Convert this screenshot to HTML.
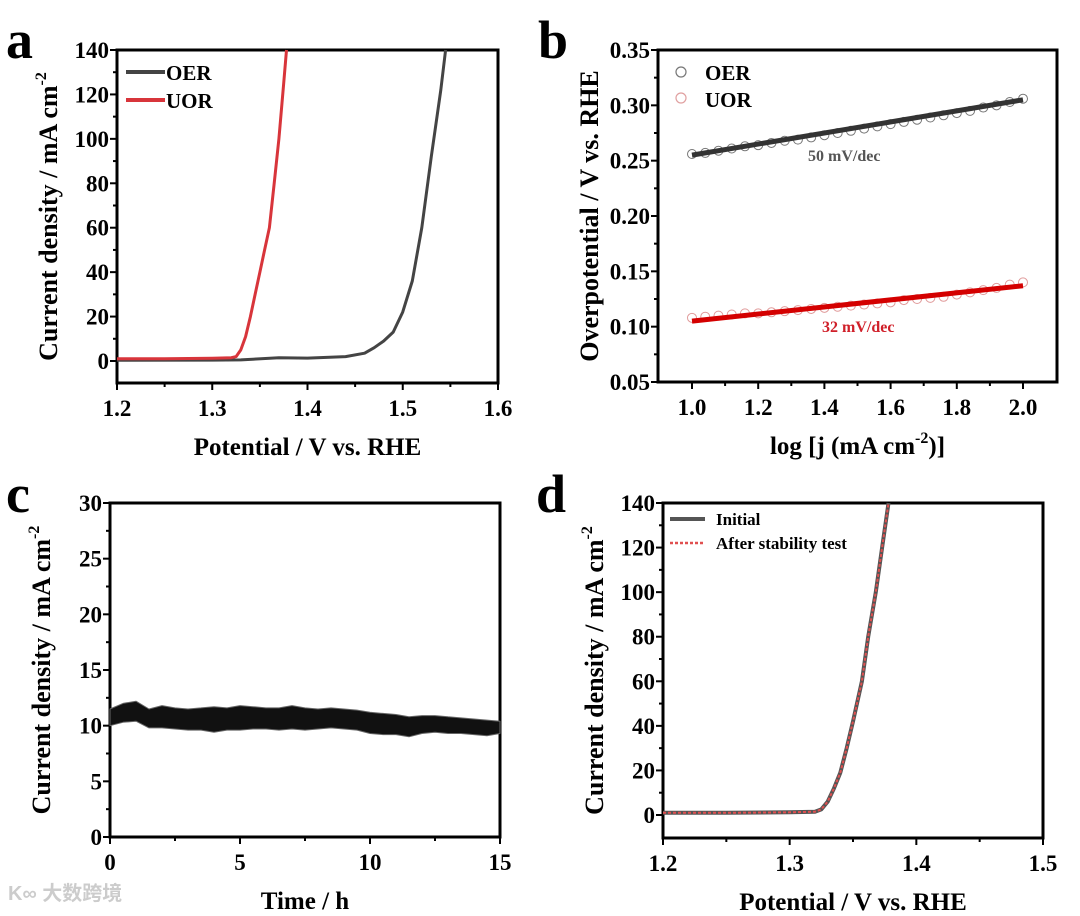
<!DOCTYPE html>
<html><head><meta charset="utf-8"><style>
html,body{margin:0;padding:0;background:#fff;}
svg{display:block;font-family:"Liberation Serif",serif;font-weight:bold;}
</style></head><body>
<svg id="fig" width="1080" height="916" viewBox="0 0 1080 916" xmlns="http://www.w3.org/2000/svg">
<g id="layer"></g>
<text x="6" y="58" font-size="54">a</text>
<text x="538" y="58" font-size="54">b</text>
<text x="6" y="512" font-size="54">c</text>
<text x="536" y="512" font-size="54">d</text>
<text x="8" y="900" font-size="20" fill="#ccc" font-family="'Liberation Sans','Noto Sans CJK SC',sans-serif">K∞ 大数跨境</text>
</svg>
<script>
// Panel a data
const aUorX=[1.2,1.25,1.3,1.32,1.325,1.33,1.335,1.34,1.345,1.35,1.355,1.36,1.365,1.37,1.375,1.378];
const aUorY=[1,1,1.2,1.5,2,5,11,20,30,40,50,60,80,100,125,140];
const aOerX=[1.2,1.3,1.33,1.37,1.4,1.44,1.46,1.47,1.48,1.49,1.5,1.51,1.52,1.53,1.54,1.545];
const aOerY=[0.3,0.4,0.5,1.5,1.3,2,3.5,6,9,13,22,36,60,92,122,140];
// Panel b data
const bX=[1.0,1.04,1.08,1.12,1.16,1.2,1.24,1.28,1.32,1.36,1.4,1.44,1.48,1.52,1.56,1.6,1.64,1.68,1.72,1.76,1.8,1.84,1.88,1.92,1.96,2.0];
const bOer=[0.256,0.257,0.259,0.261,0.263,0.264,0.266,0.268,0.269,0.271,0.273,0.275,0.277,0.279,0.281,0.283,0.285,0.287,0.289,0.291,0.293,0.295,0.298,0.300,0.303,0.306];
const bUor=[0.108,0.109,0.110,0.111,0.112,0.112,0.113,0.114,0.115,0.116,0.117,0.118,0.119,0.120,0.121,0.122,0.124,0.125,0.126,0.127,0.129,0.131,0.133,0.135,0.138,0.140];
const bFitOer=[0.255,0.305];
const bFitUor=[0.105,0.137];
// Panel c data
const cT=[0,0.5,1,1.5,2,2.5,3,3.5,4,4.5,5,5.5,6,6.5,7,7.5,8,8.5,9,9.5,10,10.5,11,11.5,12,12.5,13,13.5,14,14.5,15];
const cUpper=[11.5,12,12.2,11.5,11.8,11.6,11.5,11.6,11.7,11.6,11.8,11.7,11.6,11.6,11.8,11.6,11.5,11.6,11.5,11.4,11.2,11.1,11.0,10.8,10.9,10.9,10.8,10.7,10.6,10.5,10.4];
const cLower=[10.0,10.3,10.4,9.8,9.8,9.7,9.6,9.6,9.4,9.6,9.6,9.7,9.7,9.6,9.7,9.6,9.7,9.8,9.7,9.6,9.3,9.2,9.2,9.0,9.3,9.4,9.3,9.3,9.2,9.1,9.3];
// Panel d data
const dX=[1.2,1.25,1.3,1.32,1.325,1.33,1.335,1.34,1.345,1.35,1.357,1.362,1.368,1.373,1.378];
const dY=[1,1,1.2,1.5,2.5,6,12,19,30,42,60,80,100,120,140];
// tick labels
const aXTicks=[1.2,1.3,1.4,1.5,1.6], aYTicks=[0,20,40,60,80,100,120,140];
const bXTicks=[1.0,1.2,1.4,1.6,1.8,2.0], bYTicks=[0.05,0.10,0.15,0.20,0.25,0.30,0.35];
const cXTicks=[0,5,10,15], cYTicks=[0,5,10,15,20,25,30];
const dXTicks=[1.2,1.3,1.4,1.5], dYTicks=[0,20,40,60,80,100,120,140];

const NS="http://www.w3.org/2000/svg";
const layer=document.getElementById('layer');
function el(tag,attrs,parent){const e=document.createElementNS(NS,tag);for(const k in attrs)e.setAttribute(k,attrs[k]);(parent||layer).appendChild(e);return e;}
function lin(d0,d1,r0,r1){return v=>r0+(v-d0)/(d1-d0)*(r1-r0);}
function panel(name,box,xs,ys,xt,yt,xfmt,yfmt,xtitle,ytitle){
  const g=el('g',{});
  
  
  for(const v of xt){const x=xs(v);
    el('line',{x1:x,y1:box.b,x2:x,y2:box.b+7,stroke:'#000','stroke-width':2},g);
    const t=el('text',{x:x,y:box.b+33,'font-size':23,'text-anchor':'middle'},g);t.textContent=xfmt(v);
    
    }
  for(let i=0;i<xt.length-1;i++){const x=(xs(xt[i])+xs(xt[i+1]))/2;el('line',{x1:x,y1:box.b,x2:x,y2:box.b+4,stroke:'#000','stroke-width':2},g);}
  for(const v of yt){const y=ys(v);
    el('line',{x1:box.l-7,y1:y,x2:box.l,y2:y,stroke:'#000','stroke-width':2},g);
    const t=el('text',{x:box.l-8,y:y+8,'font-size':23,'text-anchor':'end'},g);t.textContent=yfmt(v);
    
    }
  for(let i=0;i<yt.length-1;i++){const y=(ys(yt[i])+ys(yt[i+1]))/2;el('line',{x1:box.l-4,y1:y,x2:box.l,y2:y,stroke:'#000','stroke-width':2},g);}
  const r=el('rect',{x:box.l,y:box.t,width:box.r-box.l,height:box.b-box.t,fill:'none',stroke:'#000','stroke-width':3},g);
  
  
  const xt2=el('text',{x:(box.l+box.r)/2,y:box.b+72,'font-size':25,'text-anchor':'middle'},g);
  xt2.innerHTML=xtitle;
  
  
  const cy=(box.t+box.b)/2, cx=box.l-60;
  const yt2=el('text',{x:cx,y:cy,'font-size':26,'text-anchor':'middle',transform:`rotate(-90 ${cx} ${cy})`},g);
  yt2.innerHTML=ytitle;
  
  
  return g;
}
function path(xs,ys,X,Y){return X.map((v,i)=>(i?'L':'M')+xs(v).toFixed(1)+','+ys(Y[i]).toFixed(1)).join('');}
const sup='<tspan dy="-11" font-size="16">-2</tspan>';

// ---- Panel a
{const box={l:117,r:498,t:50,b:383};const xs=lin(1.2,1.6,box.l,box.r),ys=lin(0,140,361,50);
 panel('a',box,xs,ys,aXTicks,aYTicks,v=>v.toFixed(1),v=>v,'Potential / V vs. RHE','Current density / mA cm'+sup);
 let p=el('path',{d:path(xs,ys,aOerX,aOerY),fill:'none',stroke:'#444','stroke-width':3,'stroke-linejoin':'round'});
 
 
 p=el('path',{d:path(xs,ys,aUorX,aUorY),fill:'none',stroke:'#d8353b','stroke-width':3,'stroke-linejoin':'round'});
 
 
 el('line',{x1:126,y1:72,x2:165,y2:72,stroke:'#444','stroke-width':4});
 el('line',{x1:126,y1:100,x2:165,y2:100,stroke:'#d8353b','stroke-width':4});
 let t=el('text',{x:166,y:80,'font-size':21});t.textContent='OER';
 
 
 t=el('text',{x:166,y:108,'font-size':21});t.textContent='UOR';
 
 
}
// ---- Panel b
{const box={l:658,r:1057,t:50,b:382};const xs=lin(1.0,2.0,692,1023),ys=lin(0.05,0.35,382,50);
 panel('b',box,xs,ys,bXTicks,bYTicks,v=>v.toFixed(1),v=>v.toFixed(2),'log [j (mA cm<tspan dy="-11" font-size="16">-2</tspan><tspan dy="11">)]</tspan>','Overpotential / V vs. RHE');
 [[bOer,'#777','oer'],[bUor,'#e09a9a','uor']].forEach(([Y,c,n])=>{
   bX.forEach((x,i)=>{const m=el('circle',{cx:xs(x),cy:ys(Y[i]),r:4.5,fill:'none',stroke:c,'stroke-width':1});
     
     });});
 let l=el('line',{x1:xs(1.0),y1:ys(bFitOer[0]),x2:xs(2.0),y2:ys(bFitOer[1]),stroke:'#333','stroke-width':5});
 
 
 l=el('line',{x1:xs(1.0),y1:ys(bFitUor[0]),x2:xs(2.0),y2:ys(bFitUor[1]),stroke:'#d40000','stroke-width':5});
 
 
 let t=el('text',{x:808,y:161,'font-size':16,fill:'#555'});t.textContent='50 mV/dec';
 
 
 t=el('text',{x:822,y:332,'font-size':16,fill:'#d0202a'});t.textContent='32 mV/dec';
 
 
 el('circle',{cx:681,cy:72,r:5,fill:'none',stroke:'#777','stroke-width':1.2});
 el('circle',{cx:681,cy:98,r:5,fill:'none',stroke:'#e0a0a0','stroke-width':1.2});
 t=el('text',{x:705,y:80,'font-size':21});t.textContent='OER';
 
 
 t=el('text',{x:705,y:107,'font-size':21});t.textContent='UOR';
 
 
}
// ---- Panel c
{const box={l:110,r:500,t:503,b:837};const xs=lin(0,15,110,500),ys=lin(0,30,837,503);
 panel('c',box,xs,ys,cXTicks,cYTicks,v=>v,v=>v,'Time / h','Current density / mA cm'+sup);
 const up=cT.map((t,i)=>xs(t).toFixed(1)+','+ys(cUpper[i]).toFixed(1));
 const lo=cT.map((t,i)=>xs(t).toFixed(1)+','+ys(cLower[i]).toFixed(1)).reverse();
 const p=el('polygon',{points:up.concat(lo).join(' '),fill:'#111',stroke:'#666','stroke-width':1,'stroke-linejoin':'bevel'});
 
 
}
// ---- Panel d
{const box={l:663,r:1043,t:503,b:838};const xs=lin(1.2,1.5,663,1043),ys=lin(0,140,815,503);
 panel('d',box,xs,ys,dXTicks,dYTicks,v=>v.toFixed(1),v=>v,'Potential / V vs. RHE','Current density / mA cm'+sup);
 let p=el('path',{d:path(xs,ys,dX,dY),fill:'none',stroke:'#555','stroke-width':4,'stroke-linejoin':'round'});
 
 
 p=el('path',{d:path(xs,ys,dX,dY),fill:'none',stroke:'#e05050','stroke-width':2,'stroke-dasharray':'3,2'});
 
 
 el('line',{x1:670,y1:519,x2:705,y2:519,stroke:'#555','stroke-width':4});
 el('line',{x1:670,y1:543,x2:705,y2:543,stroke:'#e05050','stroke-width':2.5,'stroke-dasharray':'3,2'});
 let t=el('text',{x:716,y:525,'font-size':17});t.textContent='Initial';
 
 
 t=el('text',{x:716,y:549,'font-size':17});t.textContent='After stability test';
 
 
}
</script>
</body></html>
